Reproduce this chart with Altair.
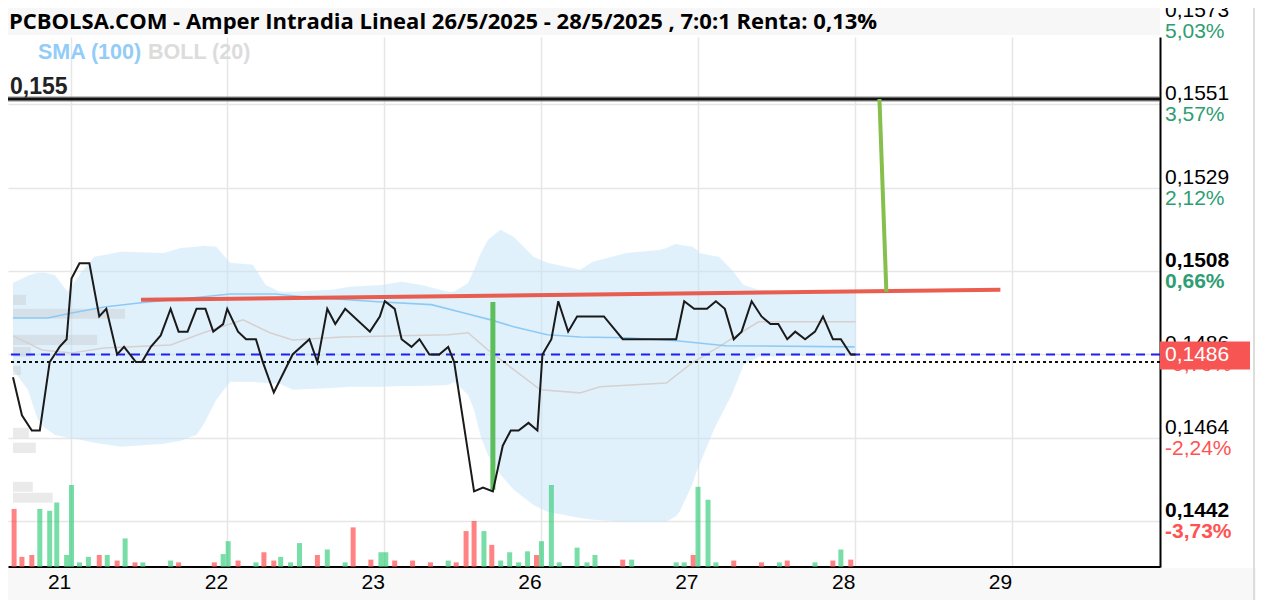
import altair as alt
import pandas as pd

# ---------------- data ----------------
day_labels = ["21", "22", "23", "26", "27", "28", "29"]
day_ticks = [0, 1, 2, 3, 4, 5, 6]
T_MIN, T_MAX = -0.367, 6.915
P_MIN, P_MAX = 0.14301, 0.15695

title_text = "PCBOLSA.COM - Amper Intradia Lineal 26/5/2025 - 28/5/2025 , 7:0:1 Renta: 0,13%"

price_t = [-0.367, -0.310, -0.247, -0.196, -0.133, -0.101, -0.070, -0.025, 0.006, 0.057,
           0.120, 0.183, 0.228, 0.297, 0.341, 0.417, 0.455, 0.512, 0.575, 0.638,
           0.689, 0.746, 0.803, 0.860, 0.910, 0.973, 0.999, 1.068, 1.119, 1.182,
           1.226, 1.296, 1.416, 1.523, 1.574, 1.637, 1.688, 1.751, 1.909, 1.972,
           2.004, 2.067, 2.111, 2.174, 2.225, 2.288, 2.351, 2.408, 2.446, 2.573,
           2.630, 2.693, 2.756, 2.807, 2.857, 2.920, 2.977, 3.009, 3.066, 3.110,
           3.173, 3.230, 3.401, 3.521, 3.862, 3.913, 3.976, 4.058, 4.115, 4.172,
           4.229, 4.279, 4.343, 4.406, 4.463, 4.513, 4.570, 4.621, 4.684, 4.747,
           4.798, 4.861, 4.912, 4.975, 5.006]
price_v = [0.1480, 0.1470, 0.1466, 0.1466, 0.1484, 0.1486, 0.1488, 0.1490, 0.1506, 0.1510,
           0.1510, 0.1496, 0.1498, 0.1486, 0.1488, 0.1484, 0.1484, 0.1488, 0.1491, 0.1498,
           0.1492, 0.1492, 0.1498, 0.1498, 0.1492, 0.1494, 0.1498, 0.1492, 0.1490, 0.1490,
           0.1484, 0.1476, 0.1486, 0.1490, 0.1484, 0.1498, 0.1494, 0.1498, 0.1492, 0.1496,
           0.1500, 0.1498, 0.1490, 0.1488, 0.1490, 0.1486, 0.1486, 0.1488, 0.1484, 0.1450,
           0.1451, 0.1450, 0.1462, 0.1466, 0.1466, 0.1468, 0.1466, 0.1486, 0.1490, 0.1500,
           0.1492, 0.1496, 0.1496, 0.1490, 0.1490, 0.1500, 0.1498, 0.1498, 0.1500, 0.1498,
           0.1490, 0.1492, 0.1500, 0.1496, 0.1494, 0.1494, 0.1490, 0.1492, 0.1490, 0.1492,
           0.1496, 0.1490, 0.1490, 0.1486, 0.1486]

band_t = [-0.367, -0.272, -0.209, -0.164, -0.101, -0.019, 0.070, 0.152, 0.322, 0.594,
          0.702, 0.803, 0.847, 0.929, 1.018, 1.163, 1.245, 1.334, 1.416, 1.669,
          1.776, 1.985, 2.111, 2.238, 2.408, 2.446, 2.535, 2.573, 2.617, 2.661,
          2.724, 2.743, 2.826, 2.952, 3.040, 3.249, 3.331, 3.546, 3.755, 3.799,
          3.862, 3.887, 3.963, 3.995, 4.008, 4.102, 4.134, 4.216, 4.292, 4.387,
          4.595, 5.006]
band_up = [0.15048, 0.15067, 0.15075, 0.15075, 0.15069, 0.15025, 0.15077, 0.15117, 0.15130, 0.15127,
           0.15140, 0.15143, 0.15146, 0.15143, 0.15101, 0.15096, 0.15043, 0.15025, 0.15025, 0.15030,
           0.15038, 0.15043, 0.15051, 0.15043, 0.15025, 0.15025, 0.15048, 0.15083, 0.15127, 0.15161,
           0.15183, 0.15188, 0.15169, 0.15117, 0.15101, 0.15083, 0.15104, 0.15127, 0.15135, 0.15140,
           0.15151, 0.15148, 0.15143, 0.15135, 0.15127, 0.15119, 0.15117, 0.15083, 0.15043, 0.15030,
           0.15025, 0.15022]
band_lo = [0.14820, 0.14767, 0.14688, 0.14667, 0.14649, 0.14641, 0.14635, 0.14628, 0.14617, 0.14625,
           0.14633, 0.14649, 0.14675, 0.14741, 0.14788, 0.14788, 0.14785, 0.14783, 0.14767, 0.14772,
           0.14775, 0.14775, 0.14777, 0.14777, 0.14780, 0.14788, 0.14754, 0.14714, 0.14643, 0.14596,
           0.14556, 0.14543, 0.14504, 0.14464, 0.14446, 0.14430, 0.14425, 0.14420, 0.14420, 0.14420,
           0.14435, 0.14449, 0.14517, 0.14556, 0.14567, 0.14662, 0.14688, 0.14754, 0.14833, 0.14854,
           0.14856, 0.14856]

mid_t = [-0.367, -0.183, 0.006, 0.215, 0.638, 0.847, 1.100, 1.271, 1.416, 1.732, 2.408, 2.535,
         2.661, 2.826, 2.996, 3.249, 3.375, 3.799, 3.963, 4.134, 4.305, 4.387, 5.006]
mid_v = [0.14909, 0.14872, 0.14864, 0.14877, 0.14885, 0.14917, 0.14951, 0.14917, 0.14898, 0.14906,
         0.14912, 0.14917, 0.14872, 0.14820, 0.14767, 0.14759, 0.14775, 0.14785, 0.14838, 0.14880,
         0.14925, 0.14946, 0.14946]

sma_t = [-0.367, -0.145, 0.006, 0.215, 0.449, 0.847, 1.018, 1.308, 1.479, 1.985, 2.301, 2.509,
         2.680, 2.826, 3.040, 3.249, 3.546, 3.862, 4.178, 5.000]
sma_v = [0.14956, 0.14956, 0.14969, 0.14985, 0.14996, 0.15012, 0.15019, 0.15019, 0.15012, 0.14998,
         0.14991, 0.14969, 0.14951, 0.14933, 0.14912, 0.14906, 0.14904, 0.14896, 0.14883, 0.14880]

vol_t = [-0.360, -0.310, -0.247, -0.196, -0.133, -0.088, -0.025, 0.006, 0.057, 0.114,
         0.183, 0.234, 0.297, 0.348, 0.411, 0.461, 0.638, 0.689, 0.917, 0.973,
         1.005, 1.068, 1.182, 1.233, 1.296, 1.340, 1.403, 1.460, 1.574, 1.637,
         1.751, 1.802, 1.915, 1.979, 2.010, 2.067, 2.181, 2.295, 2.408, 2.459,
         2.522, 2.573, 2.636, 2.686, 2.743, 2.800, 2.857, 2.914, 2.971, 3.003,
         3.066, 3.116, 3.230, 3.293, 3.344, 3.521, 3.578, 3.862, 3.913, 3.970,
         4.001, 4.065, 4.115, 4.229, 4.406, 4.520, 4.570, 4.747, 4.861, 4.912, 4.975]
vol_v = [63, 11, 13, 63, 61, 70, 13, 89, 5, 11,
         13, 13, 7, 31, 5, 5, 7, 5, 5, 14,
         28, 7, 5, 16, 7, 11, 5, 26, 13, 19,
         5, 43, 8, 16, 16, 7, 7, 5, 7, 5,
         39, 50, 39, 24, 7, 16, 5, 17, 13, 28,
         89, 5, 21, 5, 13, 8, 8, 5, 5, 13,
         87, 73, 5, 7, 5, 5, 7, 5, 7, 19, 8]
vol_dir = list("rrrggggggg" "rgrgrggrrg" "grgrrgggrg" "grrggrrrgr"
               "rrgrggggrg" "gggggrgggr" "gggrrgrgrg" "r")

prof_lo = [0.14990, 0.14954, 0.14885, 0.14854, 0.14806, 0.14641, 0.14601, 0.14499, 0.14470]
prof_hi = [0.15017, 0.14980, 0.14912, 0.14880, 0.14830, 0.14667, 0.14628, 0.14525, 0.14496]
prof_v = [13, 113, 85, 18, 8, 16, 23, 20, 40]

grid_prices = [0.14422, 0.14641, 0.14860, 0.15080, 0.15298, 0.15518, 0.15738]
grid_price_lbl = ["0,1442", "0,1464", "0,1486", "0,1508", "0,1529", "0,1551", "0,1573"]
grid_pct_lbl = ["-3,73%", "-2,24%", "-0,79%", "0,66%", "2,12%", "3,57%", "5,03%"]
grid_bold = [True, False, False, True, False, False, False]

level_price, level_label = 0.15532, "0,155"
current_price, current_label = 0.14860, "0,1486"
prev_close = 0.14840
trend_t, trend_p = [0.449, 5.929], [0.15004, 0.15030]
green1_t, green1_p = [2.693, 2.693], [0.14998, 0.14504]
green2_t, green2_p = [5.158, 5.202], [0.15532, 0.15025]

# ---------------- layout ----------------
W, H = 1152, 530
PX = (P_MAX - P_MIN) / H          # price units per pixel
TPX = (T_MAX - T_MIN) / W         # time units per pixel
FONT = "Liberation Sans"
LFS = 21

xs = alt.Scale(domain=[T_MIN, T_MAX], nice=False, zero=False)
ys = alt.Scale(domain=[P_MIN, P_MAX], nice=False, zero=False)

one = pd.DataFrame({"a": [0]})

# decorative bands
title_band = alt.Chart(one).mark_rect(color="#f7f7f7").encode(
    x=alt.value(-8), x2=alt.value(W), y=alt.value(-29), y2=alt.value(-2))
bottom_band = alt.Chart(one).mark_rect(color="#f8f8f8").encode(
    x=alt.value(-8), x2=alt.value(W + 96), y=alt.value(H + 1), y2=alt.value(H + 33))
right_border = alt.Chart(one).mark_rule(color="#dddddd", strokeWidth=2).encode(
    x=alt.value(W + 94), y=alt.value(-29), y2=alt.value(H + 33))

band_df = pd.DataFrame({"t": band_t, "up": band_up, "lo": band_lo})
band = alt.Chart(band_df).mark_area(color="#c4e3f9", opacity=0.5).encode(
    x=alt.X("t:Q", scale=xs, axis=alt.Axis(
        values=day_ticks, grid=True, gridColor="#e6e6e6", gridWidth=1.5, ticks=False,
        domainColor="black", domainWidth=3, labels=False, title=None)),
    y=alt.Y("up:Q", scale=ys, axis=alt.Axis(
        orient="right", values=grid_prices[:-1], grid=True, gridColor="#e6e6e6", gridWidth=1.5,
        labels=False, ticks=False, domainColor="black", domainWidth=2, title=None)),
    y2="lo:Q")

day_df = pd.DataFrame({"t": day_ticks, "s": day_labels})
day_txt = alt.Chart(day_df).mark_text(align="center", baseline="middle", dx=-11, fontSize=LFS,
                                      font=FONT, color="black").encode(
    x=alt.X("t:Q", scale=xs), y=alt.value(H + 16), text="s:N")

prof_df = pd.DataFrame({"lo": prof_lo, "hi": prof_hi, "v": prof_v})
prof_df["x0"] = T_MIN
prof_df["x1"] = T_MIN + prof_df["v"] / max(prof_v) * 113 * TPX
profile = alt.Chart(prof_df).mark_rect(color="#b8b8b8", opacity=0.3).encode(
    x=alt.X("x0:Q", scale=xs), x2="x1:Q", y=alt.Y("lo:Q", scale=ys), y2="hi:Q")

vol_df = pd.DataFrame({"t": vol_t, "v": vol_v, "d": vol_dir})
vol_df["base"] = P_MIN
vol_df["top"] = P_MIN + vol_df["v"] / max(vol_v) * 82 * PX
vol_df["col"] = vol_df["d"].map({"g": "#2fcc78", "r": "#ff4040"})
volume = alt.Chart(vol_df).mark_bar(size=5, opacity=0.65).encode(
    x=alt.X("t:Q", scale=xs), y=alt.Y("base:Q", scale=ys), y2="top:Q",
    color=alt.Color("col:N", scale=None))

mid = alt.Chart(pd.DataFrame({"t": mid_t, "p": mid_v})).mark_line(
    color="#d6d0d0", strokeWidth=1.5).encode(
    x=alt.X("t:Q", scale=xs), y=alt.Y("p:Q", scale=ys))
sma = alt.Chart(pd.DataFrame({"t": sma_t, "p": sma_v})).mark_line(
    color="#8ccaf5", strokeWidth=1.6).encode(
    x=alt.X("t:Q", scale=xs), y=alt.Y("p:Q", scale=ys))

lvl_df = pd.DataFrame({"p": [level_price]})
level_halo = alt.Chart(lvl_df).mark_rule(color="#888888", strokeWidth=6, opacity=0.5).encode(
    y=alt.Y("p:Q", scale=ys))
level = alt.Chart(lvl_df).mark_rule(color="#111111", strokeWidth=3).encode(
    y=alt.Y("p:Q", scale=ys))
level_txt = alt.Chart(pd.DataFrame({"p": [level_price], "s": [level_label]})).mark_text(
    align="left", baseline="middle", dy=-12, fontSize=23, fontWeight="bold", font=FONT,
    color="#222222").encode(x=alt.value(2), y=alt.Y("p:Q", scale=ys), text="s:N")

cur_line = alt.Chart(pd.DataFrame({"p": [current_price]})).mark_rule(
    color="#2020f0", strokeWidth=2, strokeDash=[9, 6]).encode(y=alt.Y("p:Q", scale=ys))
prev_line = alt.Chart(pd.DataFrame({"p": [prev_close]})).mark_rule(
    color="#111111", strokeWidth=2, strokeDash=[3, 3]).encode(y=alt.Y("p:Q", scale=ys))

price = alt.Chart(pd.DataFrame({"t": price_t, "p": price_v})).mark_line(
    color="#1a1a1a", strokeWidth=2).encode(
    x=alt.X("t:Q", scale=xs), y=alt.Y("p:Q", scale=ys))


def seg(ts, ps, color, width, opacity=1.0):
    df = pd.DataFrame({"t": [ts[0]], "t2": [ts[1]], "p": [ps[0]], "p2": [ps[1]]})
    return alt.Chart(df).mark_rule(color=color, strokeWidth=width, opacity=opacity).encode(
        x=alt.X("t:Q", scale=xs), x2="t2:Q", y=alt.Y("p:Q", scale=ys), y2="p2:Q")


trend = seg(trend_t, trend_p, "#e84c3d", 4, 0.9)
green1 = seg(green1_t, green1_p, "#5cbf5c", 5)
green2 = seg(green2_t, green2_p, "#86bf4c", 4)

# right-hand labels
lab_df = pd.DataFrame({"p": grid_prices, "pl": grid_price_lbl, "pc": grid_pct_lbl, "b": grid_bold})
lab_df["pc_col"] = ["#ff5252" if s.startswith("-") else "#2e9e72" for s in grid_pct_lbl]
lab_x = W + 5


def labels(bold):
    d = lab_df[lab_df["b"] == bold]
    w = "bold" if bold else "normal"
    a = alt.Chart(d).mark_text(align="left", baseline="middle", dy=-10, fontSize=LFS,
                               font=FONT, fontWeight=w, color="black").encode(
        x=alt.value(lab_x), y=alt.Y("p:Q", scale=ys), text="pl:N")
    b = alt.Chart(d).mark_text(align="left", baseline="middle", dy=11, fontSize=LFS,
                               font=FONT, fontWeight=w).encode(
        x=alt.value(lab_x), y=alt.Y("p:Q", scale=ys), text="pc:N",
        color=alt.Color("pc_col:N", scale=None))
    return a + b


box_df = pd.DataFrame({"p": [current_price], "y1": [current_price + 13 * PX],
                       "y2": [current_price - 15 * PX], "s": [current_label]})
cur_box = alt.Chart(box_df).mark_rect(color="#f75454").encode(
    x=alt.value(W), x2=alt.value(W + 90), y=alt.Y("y1:Q", scale=ys), y2="y2:Q")
cur_txt = alt.Chart(box_df).mark_text(align="left", baseline="middle", dy=1, fontSize=LFS,
                                      font=FONT, color="white").encode(
    x=alt.value(lab_x), y=alt.Y("p:Q", scale=ys), text="s:N")

title = alt.Chart(one).mark_text(align="left", baseline="middle", fontSize=22,
                                 fontWeight="bold", font="Open Sans", color="black").encode(
    x=alt.value(1), y=alt.value(-15), text=alt.value(title_text))
leg1 = alt.Chart(one).mark_text(align="left", baseline="middle", fontSize=21.5,
                                fontWeight="bold", font=FONT, color="#93cdf7").encode(
    x=alt.value(30), y=alt.value(16), text=alt.value("SMA (100)"))
leg2 = alt.Chart(one).mark_text(align="left", baseline="middle", fontSize=21.5,
                                fontWeight="bold", font=FONT, color="#dcdcdc").encode(
    x=alt.value(140), y=alt.value(16), text=alt.value("BOLL (20)"))

chart = alt.layer(
    band, title_band, bottom_band, right_border, profile, volume, mid, sma,
    level_halo, level, cur_line, prev_line, trend, green1, price, green2,
    level_txt, labels(False), labels(True), cur_box, cur_txt, day_txt, title, leg1, leg2
).properties(
    width=W, height=H,
    autosize=alt.AutoSizeParams(type="none"),
    padding={"left": 0, "top": 29, "right": 96, "bottom": 33},
    background="white"
).configure_view(stroke=None)

chart.save("out.html", embed_options={"renderer": "svg", "actions": False})
